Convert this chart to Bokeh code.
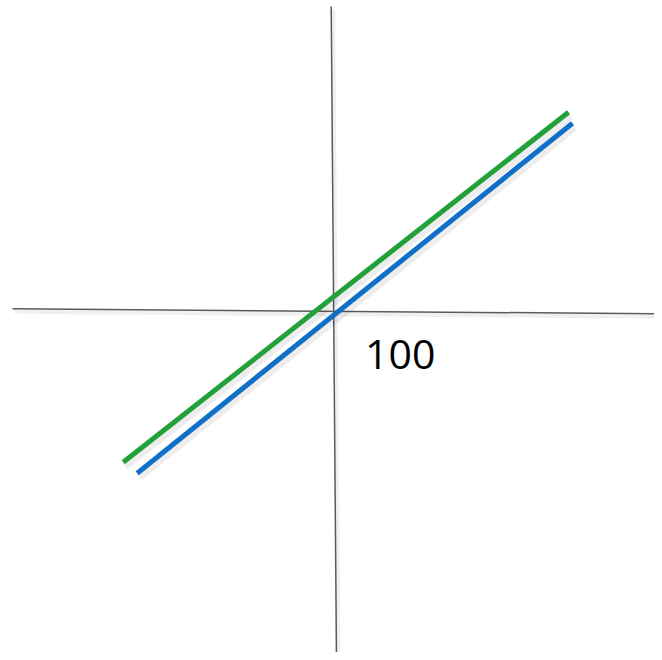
from bokeh.plotting import figure
from bokeh.models import Range1d
from bokeh.embed import file_html
from bokeh.resources import INLINE
from bokeh.core.properties import value

# data in a centred coordinate system (origin at the axes crossing)
axis_v_x = [-2.8, 2.5]
axis_v_y = [305.0, -349.0]
axis_h_x = [-321.5, 328.5]
axis_h_y = [2.7, -2.3]

green_x = [-210.8, 234.5]
green_y = [-150.7, 199.3]
blue_x = [-196.8, 238.5]
blue_y = [-161.7, 188.3]

label_text = ["100"]
label_x = [31.0]
label_y = [-43.0]

W, H = 654, 652
p = figure(width=W, height=H, output_backend="svg", toolbar_location=None,
           x_range=Range1d(-333.5, 320.5), y_range=Range1d(-341, 311),
           min_border=0, outline_line_color=None)
p.axis.visible = False
p.grid.visible = False
p.background_fill_color = "white"
p.border_fill_color = "white"

# soft shadows
for xs, ys, w in [(axis_v_x, axis_v_y, 4), (axis_h_x, axis_h_y, 4)]:
    p.line([x + 2 for x in xs], [y - 3 for y in ys], line_color="#000000", line_alpha=0.06, line_width=w)
p.line(axis_v_x, axis_v_y, line_color="#5a5a5a", line_width=1.5)
p.line(axis_h_x, axis_h_y, line_color="#5a5a5a", line_width=1.5)

for xs, ys in [(green_x, green_y), (blue_x, blue_y)]:
    p.line([x + 2 for x in xs], [y - 4 for y in ys], line_color="#000000", line_alpha=0.07, line_width=8)

p.line(green_x, green_y, line_color="#22a03a", line_width=5)
p.line(blue_x, blue_y, line_color="#1070c8", line_width=5)

p.text(x=label_x, y=label_y, text=label_text, text_font=value("Open Sans"),
       text_font_size="41px", text_color="#000000", text_baseline="alphabetic",
       text_align="left")

open("out.html", "w").write(file_html(p, INLINE))
